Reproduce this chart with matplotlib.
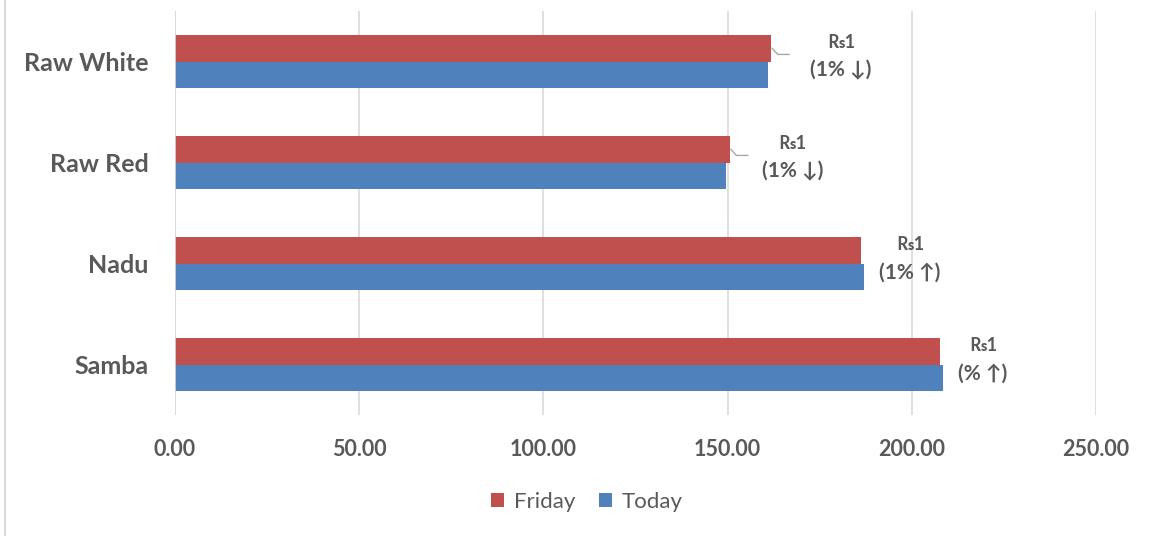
import numpy as np
import matplotlib.pyplot as plt
from matplotlib.lines import Line2D

# data
categories = ['Samba', 'Nadu', 'Raw Red', 'Raw White']
friday = [207.7, 186.2, 150.6, 161.8]
today = [208.5, 187.0, 149.6, 161.0]
label_top = ['\u20a81', '\u20a81', '\u20a81', '\u20a81']
label_bottom = ['(% \u2191)', '(1% \u2191)', '(1% \u2193)', '(1% \u2193)']
xticks = [0, 50, 100, 150, 200, 250]

fams = ['Lato', 'DejaVu Sans']
plt.rcParams['font.family'] = fams
grey = '#595959'
red = '#c0504d'
blue = '#4f81bd'

fig = plt.figure(figsize=(11.53, 5.36), dpi=100)
ax = fig.add_axes([175 / 1153, 1 - 415 / 536, (1096 - 175) / 1153, 404 / 536])

y = np.arange(len(categories))
h = 0.26
ax.barh(y + h / 2, friday, height=h, color=red, label='Friday', zorder=3)
ax.barh(y - h / 2, today, height=h, color=blue, label='Today', zorder=3)

ax.set_xlim(0, 250)
ax.set_ylim(-0.5, len(categories) - 0.5)
ax.set_xticks(xticks)
ax.set_xticklabels(['%.2f' % v for v in xticks], fontsize=15.5,
                   fontweight='bold', color=grey)
ax.set_yticks(y)
ax.set_yticklabels(categories, fontsize=18, fontweight='bold', color=grey)
ax.tick_params(axis='x', length=0, pad=17)
ax.tick_params(axis='y', length=0, pad=19)
ax.xaxis.grid(True, color='#d9d9d9', linewidth=1.2, zorder=0)
for s in ax.spines.values():
    s.set_visible(False)
ax.axvline(0, color='#d9d9d9', linewidth=1.2, zorder=4)

# data labels
offsets = [10.8, 12.5, 17.1, 19.0]
for i in range(len(categories)):
    end = max(friday[i], today[i])
    lx = end + offsets[i]
    ax.text(lx, y[i] + 0.19, label_top[i], ha='center', va='center',
            fontsize=13, fontweight='bold', color=grey, family=fams)
    ax.text(lx, y[i] - 0.09, label_bottom[i], ha='center', va='center',
            fontsize=15, fontweight='bold', color=grey, family=fams)
    if i >= 2:
        xs = [friday[i] + 0.3, friday[i] + 1.8, friday[i] + 4.9]
        ys = [y[i] + 0.13, y[i] + 0.07, y[i] + 0.07]
        ax.plot(xs, ys, color='#a6a6a6', linewidth=1, zorder=5, clip_on=False)

ax.legend(loc='center', bbox_to_anchor=((587 - 175) / 921, -(502 - 415) / 404),
          ncol=2, frameon=False, fontsize=16, labelcolor=grey,
          handlelength=0.55, handleheight=0.55, columnspacing=1.1,
          handletextpad=0.45)

fig.add_artist(Line2D([5 / 1153, 5 / 1153], [0, 1], color='#d9d9d9',
                      linewidth=1.5))

fig.savefig('out.png', dpi=100)
